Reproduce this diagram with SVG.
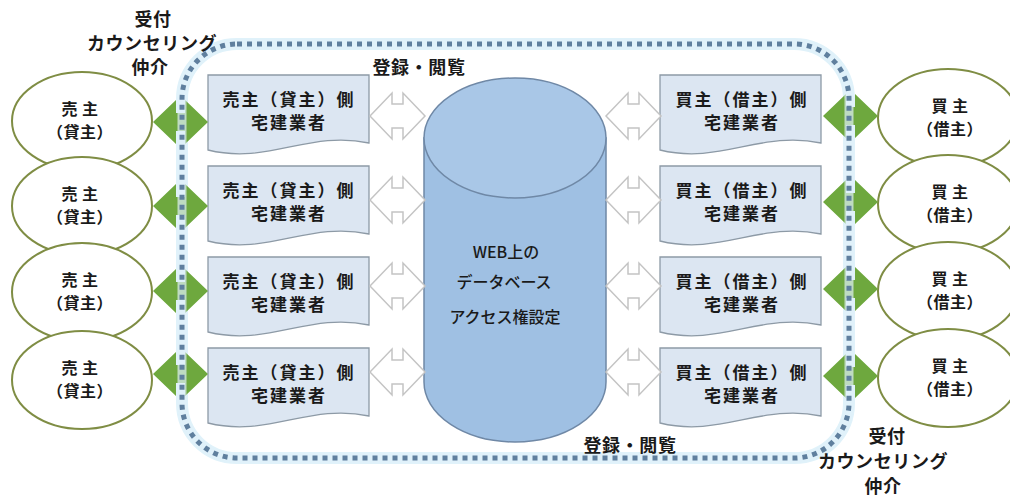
<svg xmlns="http://www.w3.org/2000/svg" width="1010" height="498" viewBox="0 0 1010 498">
<style>
text{font-family:"Noto Sans CJK JP","Noto Sans",sans-serif;fill:#1a1a1a;text-anchor:middle}
.lbl{font-size:18px;font-weight:bold;letter-spacing:0.6px}
.dt{font-size:17px;font-weight:bold;letter-spacing:2px}
.et{font-size:16px;font-weight:bold;letter-spacing:0.5px}
.ct{font-size:16px;font-weight:500}
.ell{fill:#ffffff;stroke:#7f8d44;stroke-width:2}
.doc{fill:#dce6f2;stroke:#8d9aa6;stroke-width:1.3}
.harr{fill:#ffffff;stroke:#c4c4c4;stroke-width:1.5}
.garr{fill:#6ea83e;stroke:none}
</style>
<defs>
<path id="docShape" d="M0,0 H161 V68 C101,55 60,90 0,75 Z"/>
<path id="hollowArrow" d="M0,0 L22,-23 V-12 H33 V-23 L55,0 L33,23 V12 H22 V23 Z"/>
<path id="greenArrow" d="M0,0 L23,-22 V-9 H32 V-22 L55,0 L32,22 V9 H23 V22 Z"/>
</defs>
<rect width="1010" height="498" fill="#ffffff"/>

<!-- border glow -->
<rect x="182" y="44" width="667" height="414" rx="55" ry="55" fill="none" stroke="#e0f2fa" stroke-width="12"/>

<g id="sellers">
<g id="seller1"><ellipse class="ell" cx="82" cy="121" rx="70" ry="49"/><text class="et" x="80" y="115">売 主</text><text class="et" x="80" y="138">（貸主）</text></g>
<g id="seller2"><ellipse class="ell" cx="82" cy="206" rx="70" ry="49"/><text class="et" x="80" y="200">売 主</text><text class="et" x="80" y="223">（貸主）</text></g>
<g id="seller3"><ellipse class="ell" cx="82" cy="292" rx="70" ry="49"/><text class="et" x="80" y="286">売 主</text><text class="et" x="80" y="309">（貸主）</text></g>
<g id="seller4"><ellipse class="ell" cx="82" cy="380" rx="70" ry="49"/><text class="et" x="80" y="374">売 主</text><text class="et" x="80" y="397">（貸主）</text></g>
</g>

<g id="buyers">
<g id="buyer1"><ellipse class="ell" cx="948" cy="118" rx="70" ry="49"/><text class="et" x="950" y="112">買 主</text><text class="et" x="950" y="135">（借主）</text></g>
<g id="buyer2"><ellipse class="ell" cx="948" cy="204" rx="70" ry="49"/><text class="et" x="950" y="198">買 主</text><text class="et" x="950" y="221">（借主）</text></g>
<g id="buyer3"><ellipse class="ell" cx="948" cy="291" rx="70" ry="49"/><text class="et" x="950" y="285">買 主</text><text class="et" x="950" y="308">（借主）</text></g>
<g id="buyer4"><ellipse class="ell" cx="948" cy="378" rx="70" ry="49"/><text class="et" x="950" y="372">買 主</text><text class="et" x="950" y="395">（借主）</text></g>
</g>

<g id="sellerAgents">
<g id="sagent1"><use href="#docShape" class="doc" transform="translate(208,75)"/><text class="dt" x="289" y="106">売主（貸主）側</text><text class="dt" x="289" y="129">宅建業者</text></g>
<g id="sagent2"><use href="#docShape" class="doc" transform="translate(208,166)"/><text class="dt" x="289" y="197">売主（貸主）側</text><text class="dt" x="289" y="220">宅建業者</text></g>
<g id="sagent3"><use href="#docShape" class="doc" transform="translate(208,257)"/><text class="dt" x="289" y="288">売主（貸主）側</text><text class="dt" x="289" y="311">宅建業者</text></g>
<g id="sagent4"><use href="#docShape" class="doc" transform="translate(208,348)"/><text class="dt" x="289" y="379">売主（貸主）側</text><text class="dt" x="289" y="402">宅建業者</text></g>
</g>

<g id="buyerAgents">
<g id="bagent1"><use href="#docShape" class="doc" transform="translate(660,75)"/><text class="dt" x="742" y="106">買主（借主）側</text><text class="dt" x="742" y="129">宅建業者</text></g>
<g id="bagent2"><use href="#docShape" class="doc" transform="translate(660,166)"/><text class="dt" x="742" y="197">買主（借主）側</text><text class="dt" x="742" y="220">宅建業者</text></g>
<g id="bagent3"><use href="#docShape" class="doc" transform="translate(660,257)"/><text class="dt" x="742" y="288">買主（借主）側</text><text class="dt" x="742" y="311">宅建業者</text></g>
<g id="bagent4"><use href="#docShape" class="doc" transform="translate(660,348)"/><text class="dt" x="742" y="379">買主（借主）側</text><text class="dt" x="742" y="402">宅建業者</text></g>
</g>

<g id="database">
<path d="M424,138 V382 A91,60 0 0 0 606,382 V138 Z" fill="#9fc0e3" stroke="#6f88a6" stroke-width="1.5"/>
<ellipse cx="515" cy="138" rx="91" ry="60" fill="#a9c7e7" stroke="#6f88a6" stroke-width="1.5"/>
<text class="ct" x="506" y="258">WEB上の</text>
<text class="ct" x="504" y="288">データベース</text>
<text class="ct" x="505" y="323">アクセス権設定</text>
</g>

<g id="connectors">
<use href="#hollowArrow" class="harr" transform="translate(370,116)"/>
<use href="#hollowArrow" class="harr" transform="translate(370,200)"/>
<use href="#hollowArrow" class="harr" transform="translate(370,286)"/>
<use href="#hollowArrow" class="harr" transform="translate(370,372)"/>
<use href="#hollowArrow" class="harr" transform="translate(606,116)"/>
<use href="#hollowArrow" class="harr" transform="translate(606,200)"/>
<use href="#hollowArrow" class="harr" transform="translate(606,286)"/>
<use href="#hollowArrow" class="harr" transform="translate(606,372)"/>
<use href="#greenArrow" class="garr" transform="translate(153,122)"/>
<use href="#greenArrow" class="garr" transform="translate(153,206)"/>
<use href="#greenArrow" class="garr" transform="translate(153,291)"/>
<use href="#greenArrow" class="garr" transform="translate(153,374)"/>
<use href="#greenArrow" class="garr" transform="translate(823,116)"/>
<use href="#greenArrow" class="garr" transform="translate(823,202)"/>
<use href="#greenArrow" class="garr" transform="translate(823,289)"/>
<use href="#greenArrow" class="garr" transform="translate(823,376)"/>
</g>

<g id="boundary">
<rect x="182" y="44" width="667" height="414" rx="55" ry="55" fill="none" stroke="#dff1f9" stroke-width="9" stroke-opacity="0.7"/>
<rect x="182" y="44" width="667" height="414" rx="55" ry="55" fill="none" stroke="#5f7f9e" stroke-width="5" stroke-dasharray="5 5"/>
</g>

<g id="labels">
<text class="lbl" x="153" y="26">受付</text>
<text class="lbl" x="152" y="50">カウンセリング</text>
<text class="lbl" x="150" y="74">仲介</text>
<text class="lbl" x="419" y="74">登録・閲覧</text>
<text class="lbl" x="630" y="452">登録・閲覧</text>
<text class="lbl" x="887" y="443">受付</text>
<text class="lbl" x="883" y="468">カウンセリング</text>
<text class="lbl" x="883" y="493">仲介</text>
</g>
</svg>
